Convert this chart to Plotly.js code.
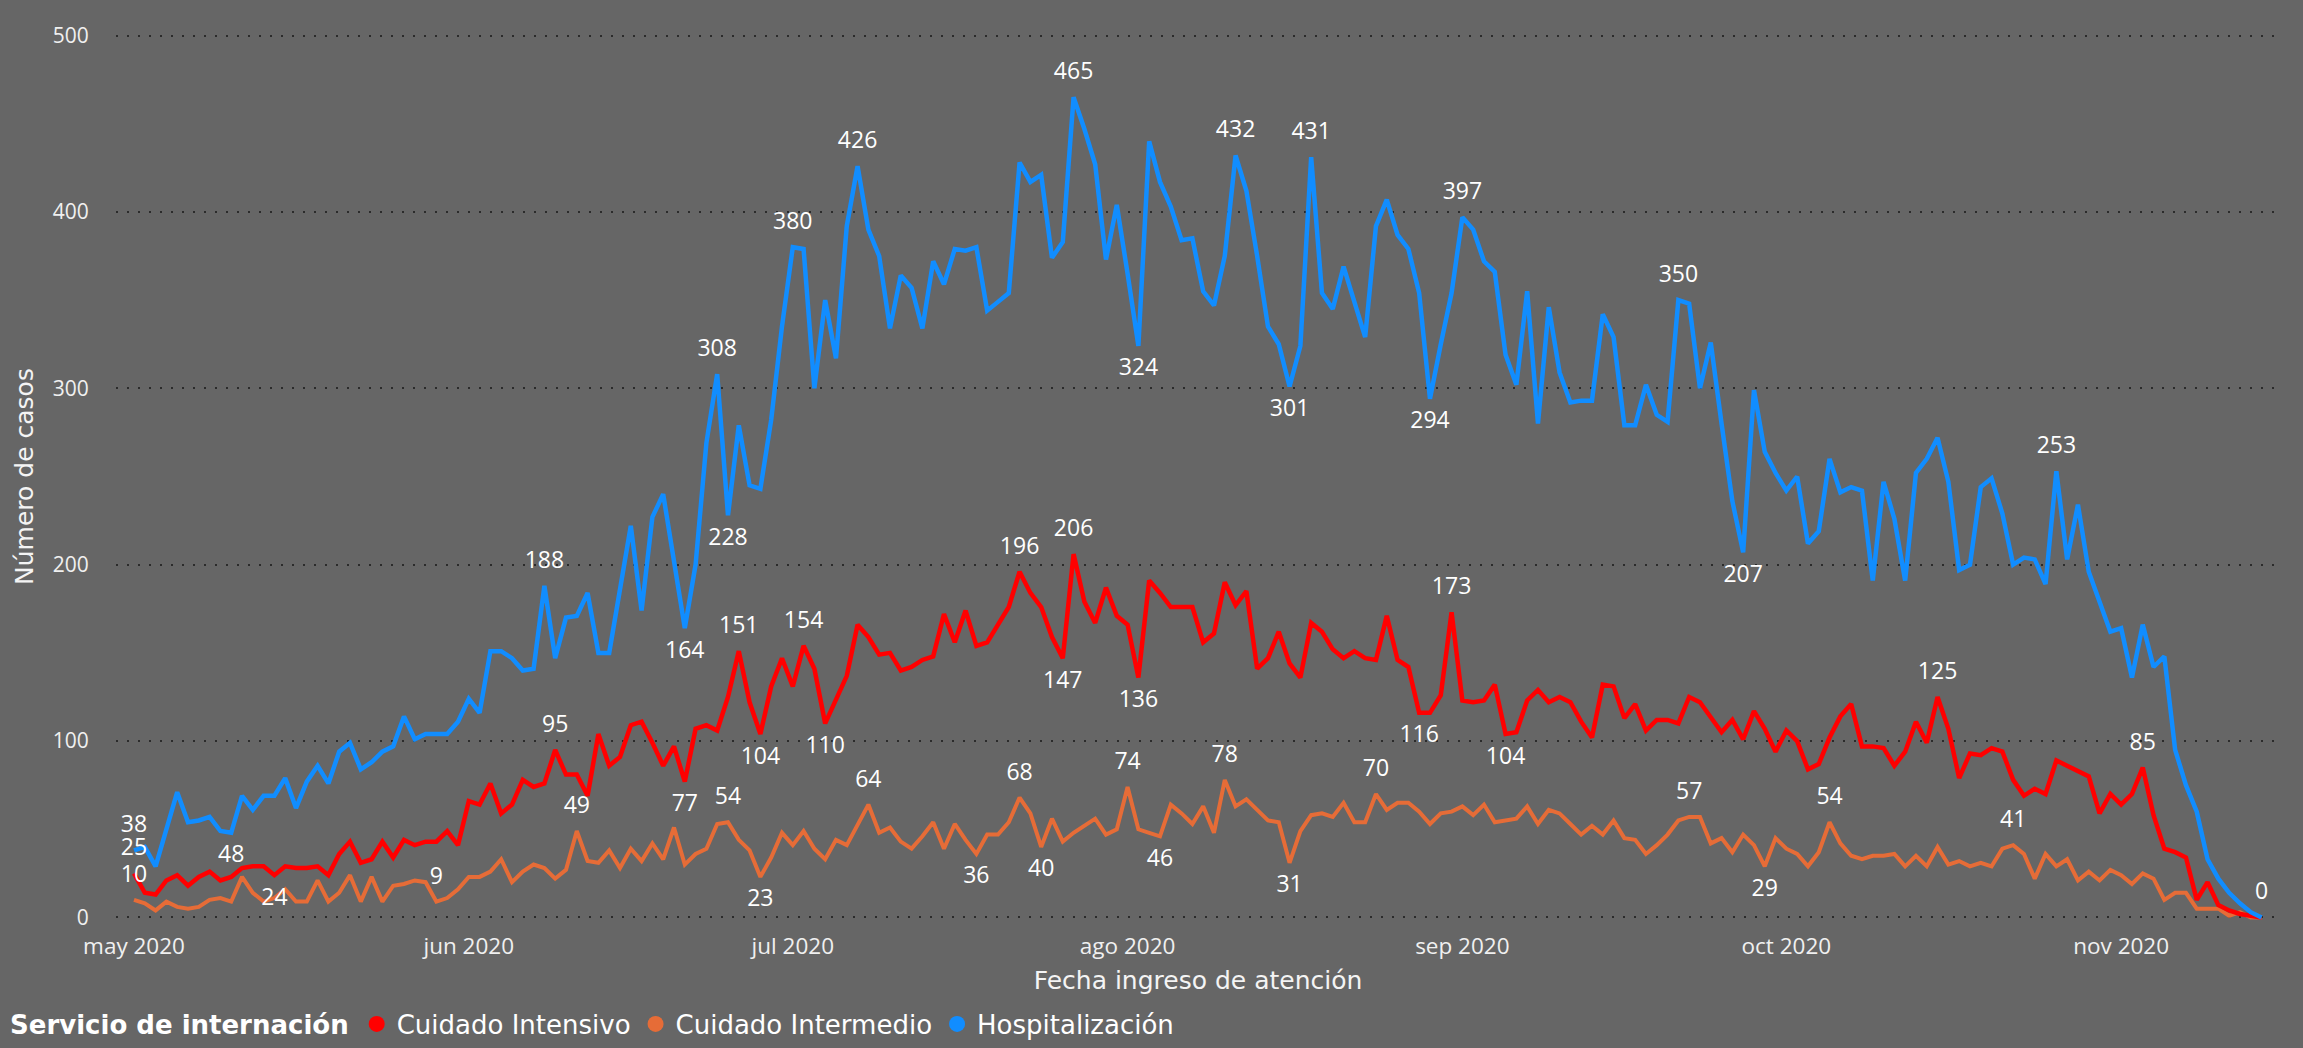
<!DOCTYPE html>
<html>
<head>
<meta charset="utf-8">
<script src="https://cdn.plot.ly/plotly-3.0.1.min.js"></script>
<style>
  html, body { margin: 0; padding: 0; background: #666666; }
  #chart { width: 2303px; height: 1048px; }
</style>
</head>
<body>
<div id="chart"></div>
<script>
// ---- Data (daily values starting 2020-05-01) ----
const startDate = '2020-05-01';

const hospitalizacion = [
  38,40,29,50,71,54,55,57,49,48,
  69,61,69,69,79,62,77,86,76,94,
  99,84,88,94,97,114,101,104,104,104,
  111,124,116,151,151,147,140,141,188,147,
  170,171,184,150,150,186,222,174,227,240,
  203,164,200,269,308,228,279,245,243,282,
  335,380,379,300,350,317,392,426,390,375,
  334,364,357,334,372,359,379,378,380,344,
  349,354,428,417,421,374,383,465,447,427,
  373,404,365,324,440,417,403,384,385,355,
  347,375,432,412,375,335,325,301,324,431,
  354,345,369,349,329,392,407,387,379,354,
  294,325,354,397,390,372,366,319,302,355,
  280,346,309,292,293,293,342,329,279,279,
  302,285,281,350,348,300,326,280,236,207,
  299,264,252,242,250,212,219,260,241,244,
  242,191,247,226,191,252,260,272,247,197,
  200,244,249,229,200,204,203,189,253,203,
  234,196,179,162,164,136,166,142,148,95,
  75,60,33,22,14,8,3,0
];

const cuidadoIntensivo = [
  25,14,13,21,24,18,23,26,21,23,
  28,29,29,24,29,28,28,29,24,36,
  43,31,33,43,34,44,41,43,43,49,
  41,66,64,76,59,64,78,74,76,95,
  81,81,69,104,86,91,109,111,99,86,
  97,77,107,109,106,125,151,122,104,131,
  147,131,154,141,110,124,137,166,159,149,
  150,140,142,146,148,172,156,174,154,156,
  166,176,196,184,176,159,147,206,179,167,
  187,171,166,136,191,184,176,176,176,156,
  161,190,177,185,141,147,162,144,136,167,
  162,152,147,151,147,146,171,146,142,116,
  116,126,173,123,122,123,132,104,105,123,
  129,122,125,122,111,102,132,131,113,121,
  106,112,112,110,125,122,114,105,112,101,
  117,107,94,106,100,84,87,102,114,121,
  97,97,96,86,94,111,99,125,107,79,
  93,92,96,94,78,69,73,70,89,86,
  83,80,59,70,64,70,85,58,39,37,
  34,10,20,7,4,2,1,0
];

const cuidadoIntermedio = [
  10,8,4,9,6,5,6,10,11,9,
  23,14,9,11,16,9,9,21,9,14,
  24,9,23,9,18,19,21,20,9,11,
  16,23,23,26,33,20,26,30,28,22,
  27,49,32,31,38,28,39,32,42,33,
  51,30,36,39,53,54,44,38,23,34,
  48,41,49,39,33,44,41,53,64,48,
  51,43,39,46,54,39,53,44,36,47,
  47,54,68,59,40,56,43,48,52,56,
  47,50,74,50,48,46,64,59,53,63,
  48,78,63,67,61,55,54,31,49,58,
  59,57,65,54,54,70,61,65,65,60,
  53,59,60,63,58,64,54,55,56,63,
  53,61,59,53,47,52,47,55,45,44,
  36,41,47,55,57,57,42,45,37,47,
  41,29,45,39,36,29,37,54,42,35,
  33,35,35,36,29,35,29,40,30,32,
  29,31,29,39,41,36,22,36,29,33,
  21,26,21,27,24,19,25,22,10,14,
  14,5,5,5,1,3,0,0
];

// Tick labels
const monthTickDates = ['2020-05-01','2020-06-01','2020-07-01','2020-08-01','2020-09-01','2020-10-01','2020-11-01'];
const monthTickLabels = ['may 2020','jun 2020','jul 2020','ago 2020','sep 2020','oct 2020','nov 2020'];
const yTickValues = [0,100,200,300,400,500];

// Series names
const seriesNames = ['Cuidado Intensivo','Cuidado Intermedio','Hospitalización'];

// Data labels shown on the chart (day index and side)
const hospLabelIdx = [0,9,38,51,54,55,61,67,87,93,102,107,109,120,123,143,149,178,197];
const hospLabelSide = ['top','bottom','top','bottom','top','bottom','top','top','top','bottom','top','bottom','top','bottom','top','top','bottom','top','top'];
const intLabelIdx = [0,13,39,51,56,58,62,64,82,86,87,93,119,122,127,167,186];
const intLabelSide = ['top','bottom','top','bottom','top','bottom','top','bottom','top','bottom','top','bottom','bottom','top','bottom','top','top'];
const medLabelIdx = [0,28,41,55,58,68,78,82,84,92,95,101,107,115,144,151,157,174];
const medLabelSide = ['top','top','top','top','bottom','top','bottom','top','bottom','top','bottom','top','bottom','top','top','bottom','top','top'];

// ---- Build ----
function buildDates(start, n) {
  const p = start.split('-').map(Number);
  const base = Date.UTC(p[0], p[1] - 1, p[2]);
  const out = [];
  for (let i = 0; i < n; i++) out.push(new Date(base + i * 86400000).toISOString().slice(0, 10));
  return out;
}
const dates = buildDates(startDate, hospitalizacion.length);

const colors = { intensivo: '#FF0000', intermedio: '#E66C37', hosp: '#118DFF' };

function lineTrace(vals, color, width, name) {
  return { type: 'scatter', mode: 'lines', x: dates, y: vals, name: name, showlegend: false,
           line: { color: color, width: width, shape: 'linear' }, hoverinfo: 'x+y' };
}
function labelTrace(vals, idx, side, name) {
  return { type: 'scatter', mode: 'markers+text', name: name + ' etiquetas', showlegend: false,
           x: idx.map(i => dates[i]), y: idx.map(i => vals[i]),
           text: idx.map(i => String(vals[i])),
           textposition: side.map(s => s + ' center'),
           marker: { size: 18, color: 'rgba(0,0,0,0)' },
           textfont: { family: 'Open Sans, DejaVu Sans, sans-serif', size: 23, color: '#ffffff' },
           cliponaxis: false, hoverinfo: 'skip' };
}
function legendTrace(color, name) {
  return { type: 'scatter', mode: 'markers', x: [null], y: [null], name: name,
           marker: { color: color, size: 16, symbol: 'circle' }, showlegend: true, hoverinfo: 'skip' };
}

const traces = [
  lineTrace(cuidadoIntermedio, colors.intermedio, 4, seriesNames[1]),
  lineTrace(cuidadoIntensivo, colors.intensivo, 4.5, seriesNames[0]),
  lineTrace(hospitalizacion, colors.hosp, 4.5, seriesNames[2]),
  labelTrace(cuidadoIntermedio, medLabelIdx, medLabelSide, seriesNames[1]),
  labelTrace(cuidadoIntensivo, intLabelIdx, intLabelSide, seriesNames[0]),
  labelTrace(hospitalizacion, hospLabelIdx, hospLabelSide, seriesNames[2]),
  legendTrace(colors.intensivo, seriesNames[0]),
  legendTrace(colors.intermedio, seriesNames[1]),
  legendTrace(colors.hosp, seriesNames[2])
];

const tickFont = { family: 'Open Sans, DejaVu Sans, sans-serif', size: 22.5, color: '#f0f0f0' };
const yTickFont = { family: 'Open Sans, DejaVu Sans, sans-serif', size: 21, color: '#f0f0f0' };
const titleFont = { family: 'DejaVu Sans, sans-serif', size: 25, color: '#f4f4f4' };

const layout = {
  width: 2303, height: 1048,
  paper_bgcolor: '#666666', plot_bgcolor: '#666666',
  margin: { l: 116, r: 23, t: 32, b: 127 },
  font: { family: 'DejaVu Sans, sans-serif', color: '#ffffff' },
  xaxis: {
    type: 'date',
    range: ['2020-04-29 08:00', '2020-11-15 17:00'],
    tickmode: 'array', tickvals: monthTickDates, ticktext: monthTickLabels,
    showgrid: false, zeroline: false, showline: false,
    ticks: 'outside', ticklen: 5, tickcolor: 'rgba(0,0,0,0)',
    tickfont: tickFont,
    title: { text: 'Fecha ingreso de atención', font: titleFont, standoff: 11 }
  },
  yaxis: {
    range: [-2, 502],
    tickmode: 'array', tickvals: yTickValues,
    showgrid: true, gridcolor: '#2b2b2b', gridwidth: 2, griddash: '2px,9px',
    zeroline: false, showline: false,
    ticks: 'outside', ticklen: 22, tickcolor: 'rgba(0,0,0,0)',
    tickfont: yTickFont,
    title: { text: 'Número de casos', font: titleFont, standoff: 12 }
  },
  showlegend: true,
  legend: {
    orientation: 'h',
    xref: 'container', yref: 'container',
    x: 0.0035, xanchor: 'left', y: 0.0229, yanchor: 'middle',
    bgcolor: 'rgba(0,0,0,0)',
    font: { family: 'DejaVu Sans, sans-serif', size: 26, color: '#ffffff' },
    title: { text: '<b>Servicio de internación</b>', side: 'left', font: { family: 'DejaVu Sans, sans-serif', size: 26, color: '#ffffff' } },
    itemwidth: 30, tracegroupgap: 0
  }
};

Plotly.newPlot('chart', traces, layout, { displayModeBar: false, staticPlot: true });
</script>
</body>
</html>
